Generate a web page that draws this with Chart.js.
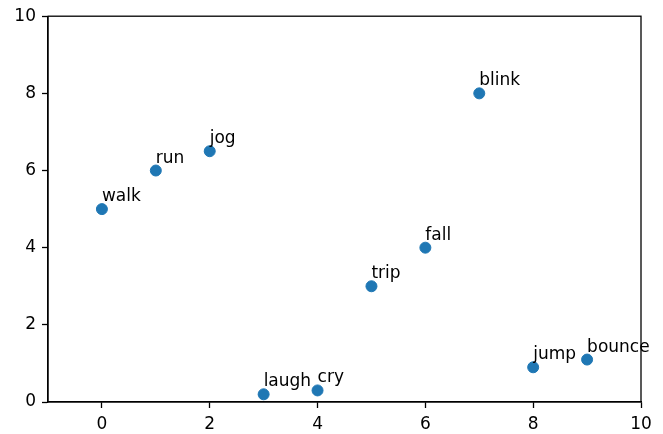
<!DOCTYPE html>
<html>
<head>
<meta charset="utf-8">
<script src="https://cdn.jsdelivr.net/npm/chart.js@4"></script>
<style>
  html, body { margin: 0; padding: 0; background: #fff; }
  #wrap { width: 663px; height: 434px; }
</style>
</head>
<body>
<div id="wrap"><canvas id="chart"></canvas></div>
<script>
const words = ['walk', 'run', 'jog', 'laugh', 'cry', 'trip', 'fall', 'blink', 'jump', 'bounce'];
const xValues = [0, 1, 2, 3, 4, 5, 6, 7, 8, 9];
const yValues = [5, 6, 6.5, 0.2, 0.3, 3, 4, 8, 0.9, 1.1];
const xTicks = [0, 2, 4, 6, 8, 10];

const FONT = 'DejaVu Sans';

// frame round the plot area plus the word next to each point
const frameAndLabels = {
    id: 'frameAndLabels',
    afterDatasetsDraw(chart) {
        const { ctx, chartArea, scales } = chart;
        ctx.save();
        ctx.strokeStyle = '#000';
        ctx.lineWidth = 1.3;
        ctx.strokeRect(chartArea.left, chartArea.top,
            chartArea.right - chartArea.left, chartArea.bottom - chartArea.top);

        ctx.fillStyle = '#000';
        ctx.font = '17px "' + FONT + '"';
        ctx.textAlign = 'left';
        ctx.textBaseline = 'alphabetic';
        words.forEach(function (w, i) {
            const px = scales.x.getPixelForValue(xValues[i]);
            const py = scales.y.getPixelForValue(yValues[i]);
            ctx.fillText(w, px, py - 8);
        });
        ctx.restore();
    }
};

const ctx = document.getElementById('chart').getContext('2d');
new Chart(ctx, {
    type: 'scatter',
    data: {
        datasets: [{
            data: xValues.map((x, i) => ({ x: x, y: yValues[i] })),
            backgroundColor: '#1f77b4',
            borderColor: '#1f77b4',
            pointRadius: 5.5,
            pointHoverRadius: 5.5
        }]
    },
    options: {
        responsive: true,
        maintainAspectRatio: false,
        animation: false,
        events: [],
        layout: { padding: { left: 0, top: 16, right: 22, bottom: 0 } },
        plugins: {
            legend: { display: false },
            tooltip: { enabled: false }
        },
        scales: {
            x: {
                type: 'linear',
                min: -1,
                max: 10,
                afterBuildTicks: axis => { axis.ticks = xTicks.map(v => ({ value: v })); },
                afterFit: axis => { axis.height = 32; },
                grid: { drawOnChartArea: false, drawTicks: true, tickLength: 6, color: '#000', tickWidth: 1.3 },
                border: { display: true, color: '#000', width: 1.3 },
                ticks: { color: '#000', font: { family: FONT, size: 17 }, padding: 6, maxRotation: 0 }
            },
            y: {
                min: 0,
                max: 10,
                afterFit: axis => { axis.width = 48; },
                grid: { drawOnChartArea: false, drawTicks: true, tickLength: 6, color: '#000', tickWidth: 1.3 },
                border: { display: true, color: '#000', width: 1.3 },
                ticks: { stepSize: 2, color: '#000', font: { family: FONT, size: 17 }, padding: 6 }
            }
        }
    },
    plugins: [frameAndLabels]
});
</script>
</body>
</html>
